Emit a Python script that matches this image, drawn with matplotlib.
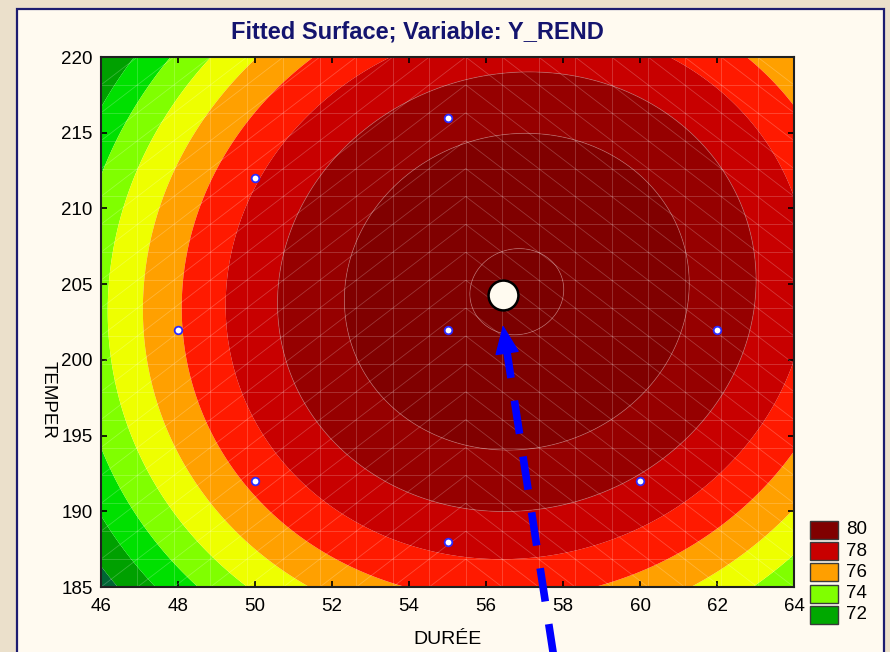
import numpy as np
import matplotlib
matplotlib.use("Agg")
import matplotlib.pyplot as plt
from matplotlib.patches import Rectangle, FancyArrowPatch
from matplotlib.collections import LineCollection

plt.rcParams['font.family'] = ['Liberation Sans', 'DejaVu Sans']

# ---------------- data ----------------
title = "Fitted Surface; Variable: Y_REND"
x_label = "DURÉE"
y_label = "TEMPER"
x_ticks = [46, 48, 50, 52, 54, 56, 58, 60, 62, 64]
y_ticks = [185, 190, 195, 200, 205, 210, 215, 220]

# fitted quadratic surface (coefficients)
peak_value = 81.08
peak_duree = 56.8
peak_temper = 204.5
coef_duree2 = 0.054
coef_temper2 = 0.0099
coef_cross = 0.0024

levels = [72, 73, 74, 75, 76, 77, 78, 79, 80, 81]
band_colors = ['#006633', '#00A000', '#00E000', '#80FF00', '#EEFF00', '#FFA000',
               '#FF1A00', '#C80000', '#960000', '#800000', '#7B0000']

design_duree = [55, 50, 48, 55, 62, 50, 60, 55]
design_temper = [216, 212, 202, 202, 202, 192, 192, 188]

optimum_duree = 56.45
optimum_temper = 204.3

arrow_tip = (56.44, 202.3)
arrow_head_base = (56.54, 200.6)
arrow_tail = (57.82, 179.4)

legend_labels = ['80', '78', '76', '74', '72']
legend_colors = ['#800000', '#C80000', '#FF9F00', '#80FF00', '#00A800']

# ---------------- figure ----------------
W, H = 890, 652
fig = plt.figure(figsize=(W / 100, H / 100), dpi=100)
fig.patch.set_facecolor('#EBE0CB')

panel = Rectangle((17 / W, -0.02), (884 - 17) / W, 1.02 - 9 / H, transform=fig.transFigure,
                  facecolor='#FFFAF0', edgecolor='#1C1C70', linewidth=1.6, zorder=0)
fig.add_artist(panel)

ax = fig.add_axes([101 / W, 1 - 587 / H, (794 - 101) / W, (587 - 57) / H])

xmin, xmax = x_ticks[0], x_ticks[-1]
ymin, ymax = y_ticks[0], y_ticks[-1]
gx = np.linspace(xmin, xmax, 400)
gy = np.linspace(ymin, ymax, 400)
X, Y = np.meshgrid(gx, gy)
dx = X - peak_duree
dy = Y - peak_temper
Z = peak_value - coef_duree2 * dx ** 2 - coef_temper2 * dy ** 2 + coef_cross * dx * dy

bounds = [-1000] + levels + [1000]
ax.contourf(X, Y, Z, levels=bounds, colors=band_colors, antialiased=True)
ax.contour(X, Y, Z, levels=[79, 80, 81], colors='#C07070', linewidths=0.6, alpha=0.6)

# faint mesh of the surface rendering
mx = np.linspace(xmin, xmax, 20)
my = np.linspace(ymin, ymax, 20)
segs = []
for xv in mx[1:-1]:
    segs.append([(xv, ymin), (xv, ymax)])
for yv in my[1:-1]:
    segs.append([(xmin, yv), (xmax, yv)])
for i in range(len(mx) - 1):
    for j in range(len(my) - 1):
        if i < 10:
            segs.append([(mx[i], my[j]), (mx[i + 1], my[j + 1])])
        else:
            segs.append([(mx[i], my[j + 1]), (mx[i + 1], my[j])])
ax.add_collection(LineCollection(segs, colors='white', linewidths=0.6, alpha=0.22, zorder=2))

# design points
ax.plot(design_duree, design_temper, linestyle='none', marker='o', markersize=5.5,
        markerfacecolor='white', markeredgecolor='#2A2AFF', markeredgewidth=1.3, zorder=5)

# optimum
ax.plot([optimum_duree], [optimum_temper], linestyle='none', marker='o', markersize=21.5,
        markerfacecolor='#FFFBF0', markeredgecolor='black', markeredgewidth=1.8, zorder=6)

# dashed arrow
ax.plot([arrow_head_base[0], arrow_tail[0]], [arrow_head_base[1], arrow_tail[1]],
        color='#0000FF', linewidth=5.5, linestyle=(0.8, (4.4, 3.0)), solid_capstyle='butt',
        dash_capstyle='butt', clip_on=False, zorder=7)
head = FancyArrowPatch(arrow_head_base, arrow_tip, arrowstyle='-|>,head_length=1.9,head_width=0.8',
                       mutation_scale=10, color='#0000FF', linewidth=1, shrinkA=0, shrinkB=0,
                       clip_on=False, zorder=8)
ax.add_patch(head)

ax.set_xlim(xmin, xmax)
ax.set_ylim(ymin, ymax)
ax.set_xticks(x_ticks)
ax.set_yticks(y_ticks)
ax.tick_params(direction='in', length=4, width=1.2, top=True, right=True,
               labelsize=13.5, colors='black')
ax.tick_params(axis='x', pad=8)
ax.tick_params(axis='y', pad=6)
for s in ax.spines.values():
    s.set_linewidth(1.5)
    s.set_color('#202020')

fig.text(417.5 / W, 1 - 32.5 / H, title, ha='center', va='center', fontsize=17,
         fontweight='bold', color='#14146E')
fig.text(447.5 / W, 1 - 639 / H, x_label, ha='center', va='center', fontsize=14)
fig.text(48 / W, 1 - 400 / H, y_label, ha='center', va='center', fontsize=13.5, rotation=270)

for i, (lab, col) in enumerate(zip(legend_labels, legend_colors)):
    top = 521 + i * 21.2
    fig.add_artist(Rectangle((810 / W, 1 - (top + 18) / H), 28 / W, 18 / H,
                             transform=fig.transFigure, facecolor=col,
                             edgecolor='#3A3A3A', linewidth=1))
    fig.text(846 / W, 1 - (top + 9) / H, lab, ha='left', va='center', fontsize=13.5)

fig.savefig('out.png', dpi=100, facecolor=fig.get_facecolor())
